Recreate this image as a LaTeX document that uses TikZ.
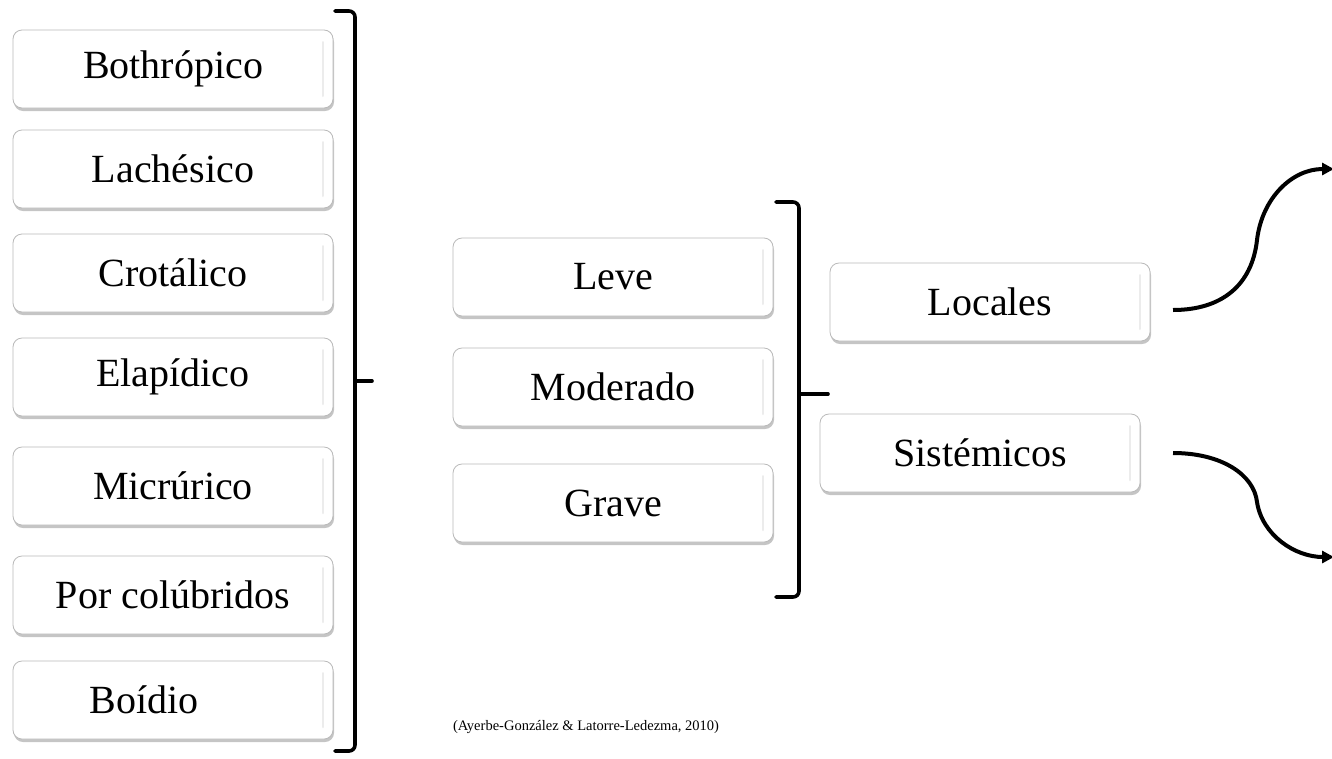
\documentclass[tikz,border=0pt]{standalone}
\usepackage{fontspec}
\setmainfont{Liberation Serif}
\newfontfamily\tnr{Liberation Serif}
\usetikzlibrary{shadows,arrows.meta}
\tikzset{
  box/.style={draw=gray!55, line width=0.8pt, fill=white, rounded corners=9pt,
    minimum width=320pt, minimum height=78pt, inner sep=0pt,
    font=\tnr\fontsize{40}{44}\selectfont,
    drop shadow={opacity=0.45, shadow xshift=1pt, shadow yshift=-3pt, fill=gray},
    path picture={\draw[gray!15, line width=2pt, line cap=round]
      ([xshift=-10pt,yshift=-12pt]path picture bounding box.north east) --
      ([xshift=-10pt,yshift=12pt]path picture bounding box.south east);}},
  brk/.style={line width=3.6pt, line cap=round, rounded corners=6pt},
  conn/.style={line width=4pt, -{Triangle[length=12pt,width=12pt]}}
}
\begin{document}
\begin{tikzpicture}[x=1pt,y=-1pt]
\useasboundingbox (0,0) rectangle (1332,758);
\fill[white] (0,0) rectangle (1332,758);
% left column
\node[box] (b1) at (173,69) {Bothrópico};
\node[box] (b2) at (173,169) {Lachésico};
\node[box] (b3) at (173,273) {Crotálico};
\node[box] (b4) at (173,377) {Elapídico};
\node[box] (b5) at (173,486) {Micrúrico};
\node[box] (b6) at (173,595) {Por colúbridos};
\node[box] (b7) at (173,700) {Boídio\hspace*{58pt}};
% left bracket
\coordinate (lt) at (335,11);
\coordinate (lb) at (335,751);
\draw[brk] (lt) -- (355,11) -- (355,751) -- (lb);
\coordinate (lm1) at (355,381);
\coordinate (lm2) at (372,381);
\draw[brk] (lm1) -- (lm2);
% middle column
\node[box] (m1) at (613,277) {Leve};
\node[box] (m2) at (613,387) {Moderado};
\node[box] (m3) at (613,503) {Grave};
% middle bracket
\coordinate (mt) at (776,202);
\coordinate (mb) at (776,597);
\draw[brk] (mt) -- (799,202) -- (799,597) -- (mb);
\coordinate (mm1) at (799,394);
\coordinate (mm2) at (828,394);
\draw[brk] (mm1) -- (mm2);
% right column
\node[box] (loc) at (990,302) {Locales};
\node[box] (sis) at (980,453) {Sistémicos};
% connectors
\coordinate (s1) at (1173,310);
\coordinate (e1) at (1334,169);
\coordinate (s2) at (1173,453);
\coordinate (e2) at (1334,557);
\draw[conn] (s1) .. controls (1222,310) and (1252,285) .. (1257,240)
  .. controls (1262,198) and (1292,169) .. (e1);
\draw[conn] (s2) .. controls (1222,453) and (1254,475) .. (1257,502)
  .. controls (1262,535) and (1295,557) .. (e2);
% citation
\node[font=\tnr\fontsize{14.5}{16}\selectfont] (cit) at (586,727) {(Ayerbe-González \& Latorre-Ledezma, 2010)};
\end{tikzpicture}
\end{document}
